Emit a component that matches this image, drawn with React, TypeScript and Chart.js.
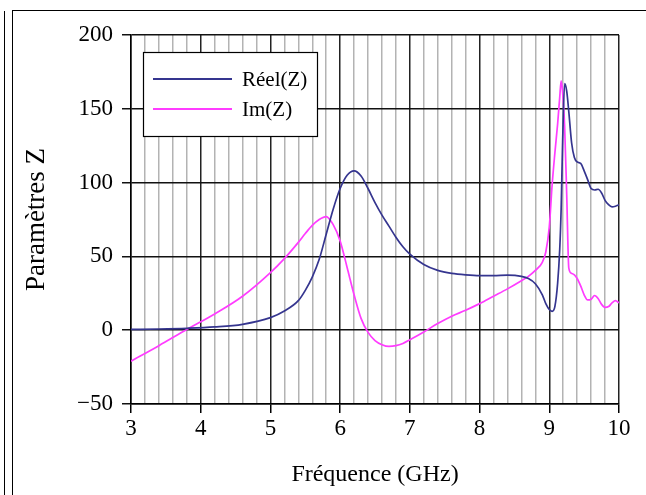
import React, { useEffect, useRef } from 'react';
import { Chart, registerables } from 'chart.js';

Chart.register(...registerables);

// ---- data ----
const freqGHz = [
  3.0, 3.4, 3.8, 4.2, 4.6, 5.0, 5.2, 5.4, 5.5, 5.6, 5.7, 5.8, 5.9, 6.0, 6.1, 6.2,
  6.3, 6.4, 6.5, 6.6, 6.7, 6.8, 6.9, 7.0, 7.2, 7.4, 7.6, 7.8, 8.0, 8.2, 8.4, 8.6,
  8.7, 8.8, 8.9, 8.95, 9.0, 9.04, 9.08, 9.12, 9.15, 9.17, 9.19, 9.22, 9.25, 9.28,
  9.32, 9.36, 9.4, 9.45, 9.5, 9.55, 9.6, 9.65, 9.7, 9.75, 9.8, 9.85, 9.9, 9.95, 10.0,
];

const reelZ = [
  0.5, 0.8, 1.3, 2.2, 4.0, 8.5, 13, 20, 27, 36, 48, 65, 82, 96, 105, 108,
  104.5, 96, 86.5, 78, 70.5, 63, 56.5, 51.5, 44.5, 40.5, 38.5, 37.5, 37, 37, 37.3, 36.5,
  35, 31.5, 24, 18, 14, 12.8, 16, 32, 55, 82, 125, 167, 162, 148,
  127, 117, 114, 113, 108, 102, 96, 95, 95.5, 93, 88, 85, 83.5, 84, 85,
];

const imZ = [
  -21, -10.5, 0.5, 11, 23, 39, 48.5, 59.5, 65.5, 71, 75, 77, 71.5, 60.5, 42.5, 24,
  8, -1.5, -7, -9.8, -11, -10.5, -9, -6.5, -1.2, 4.5, 9.5, 13.5, 18, 23, 28, 33.5,
  36.5, 40.5, 46, 53, 70, 98, 120, 140, 158, 169, 162, 138, 92, 42,
  38.5, 37.5, 35, 30, 24, 20.5, 21, 23.5, 21.5, 17.5, 15.5, 16, 18.5, 20, 18.5,
];

const xMajorTicks = [3, 4, 5, 6, 7, 8, 9, 10];
const xMinorPerUnit = 5;
const yTicks = [-50, 0, 50, 100, 150, 200];

const seriesLabels = ['Réel(Z)', 'Im(Z)'];
const seriesColors = ['#35358f', '#ff3cff'];

const SERIF = "'Liberation Serif', 'Times New Roman', 'DejaVu Serif', serif";

const isMajor = (v: number) => Math.abs(v - Math.round(v)) < 1e-6;

const boxLegend = {
  id: 'boxLegend',
  afterDatasetsDraw(chart: any) {
    const { ctx, chartArea } = chart;
    const x0 = Math.round(chartArea.left + 12);
    const y0 = Math.round(chartArea.top + 17);
    const w = 174;
    const h = 84;
    ctx.save();
    ctx.fillStyle = '#ffffff';
    ctx.fillRect(x0, y0, w, h);
    ctx.strokeStyle = '#000000';
    ctx.lineWidth = 1.2;
    ctx.strokeRect(x0 + 0.5, y0 + 0.5, w, h);
    chart.data.datasets.forEach((ds: any, i: number) => {
      const y = y0 + 27 + i * 30;
      ctx.strokeStyle = ds.borderColor;
      ctx.lineWidth = 2;
      ctx.beginPath();
      ctx.moveTo(x0 + 10, y);
      ctx.lineTo(x0 + 89, y);
      ctx.stroke();
      ctx.fillStyle = '#000000';
      ctx.font = `21px ${SERIF}`;
      ctx.textBaseline = 'middle';
      ctx.textAlign = 'left';
      ctx.fillText(ds.label, x0 + 99, y + 1);
    });
    ctx.restore();
  },
};

export default function App() {
  const canvasRef = useRef<HTMLCanvasElement | null>(null);

  useEffect(() => {
    const canvas = canvasRef.current;
    if (!canvas) return;
    const values = [reelZ, imZ];
    const chart = new Chart(canvas, {
      type: 'line',
      data: {
        datasets: values.map((arr, i) => ({
          label: seriesLabels[i],
          data: freqGHz.map((x, j) => ({ x, y: arr[j] })),
          borderColor: seriesColors[i],
          backgroundColor: seriesColors[i],
          borderWidth: 1.7,
          pointRadius: 0,
          fill: false,
          cubicInterpolationMode: 'monotone',
        })),
      },
      options: {
        responsive: false,
        animation: false,
        devicePixelRatio: 1,
        layout: { padding: { top: 35, right: 27, left: 0, bottom: 0 } },
        plugins: {
          legend: { display: false },
          tooltip: { enabled: false },
        },
        scales: {
          x: {
            type: 'linear',
            min: xMajorTicks[0],
            max: xMajorTicks[xMajorTicks.length - 1],
            afterBuildTicks: (scale: any) => {
              const ticks: any[] = [];
              for (let k = 0; k < xMajorTicks.length - 1; k++) {
                for (let m = 0; m < xMinorPerUnit; m++) {
                  ticks.push({ value: xMajorTicks[k] + m / xMinorPerUnit });
                }
              }
              ticks.push({ value: xMajorTicks[xMajorTicks.length - 1] });
              scale.ticks = ticks;
            },
            afterFit: (scale: any) => {
              scale.height = 91;
            },
            ticks: {
              autoSkip: false,
              maxRotation: 0,
              padding: 2,
              color: '#000',
              font: { family: SERIF, size: 23 },
              callback: (v: any) => (isMajor(Number(v)) ? String(Math.round(Number(v))) : ''),
            },
            grid: {
              color: (c: any) => (isMajor(c.tick.value) ? '#222222' : '#b3b3b3'),
              lineWidth: 1.5,
              tickLength: 9,
              tickColor: (c: any) => (isMajor(c.tick.value) ? '#000000' : 'rgba(0,0,0,0)'),
            },
            border: { color: '#000', width: 1.5 },
            title: {
              display: true,
              text: 'Fréquence (GHz)',
              color: '#000',
              font: { family: SERIF, size: 24 },
              padding: { top: 0, bottom: 6 },
            },
          },
          y: {
            type: 'linear',
            min: yTicks[0],
            max: yTicks[yTicks.length - 1],
            afterBuildTicks: (scale: any) => {
              scale.ticks = yTicks.map((v) => ({ value: v }));
            },
            afterFit: (scale: any) => {
              scale.width = 131;
            },
            ticks: {
              padding: 9,
              color: '#000',
              font: { family: SERIF, size: 23 },
              callback: (v: any) => (Number(v) < 0 ? '\u2212' + Math.abs(Number(v)) : String(v)),
            },
            grid: {
              color: '#111111',
              lineWidth: 1.5,
              tickLength: 9,
            },
            border: { color: '#000', width: 1.5 },
            title: {
              display: true,
              text: 'Paramètres Z',
              color: '#000',
              font: { family: SERIF, size: 27 },
              padding: { top: 21, bottom: 0 },
            },
          },
        },
      },
      plugins: [boxLegend],
    } as any);
    return () => chart.destroy();
  }, []);

  return (
    <div
      style={{
        position: 'fixed',
        left: 0,
        top: 0,
        width: 646,
        height: 495,
        background: '#fff',
        overflow: 'hidden',
      }}
    >
      <canvas
        ref={canvasRef}
        width={646}
        height={495}
        style={{ position: 'absolute', left: 0, top: 0 }}
      />
      <div
        style={{
          position: 'absolute',
          left: 4,
          top: 11,
          width: 0,
          height: 484,
          borderLeft: '1.5px solid #000',
        }}
      />
      <div
        style={{
          position: 'absolute',
          left: 12,
          top: 10,
          width: 640,
          height: 490,
          borderLeft: '1.5px solid #000',
          borderTop: '1.5px solid #000',
          pointerEvents: 'none',
        }}
      />
    </div>
  );
}
